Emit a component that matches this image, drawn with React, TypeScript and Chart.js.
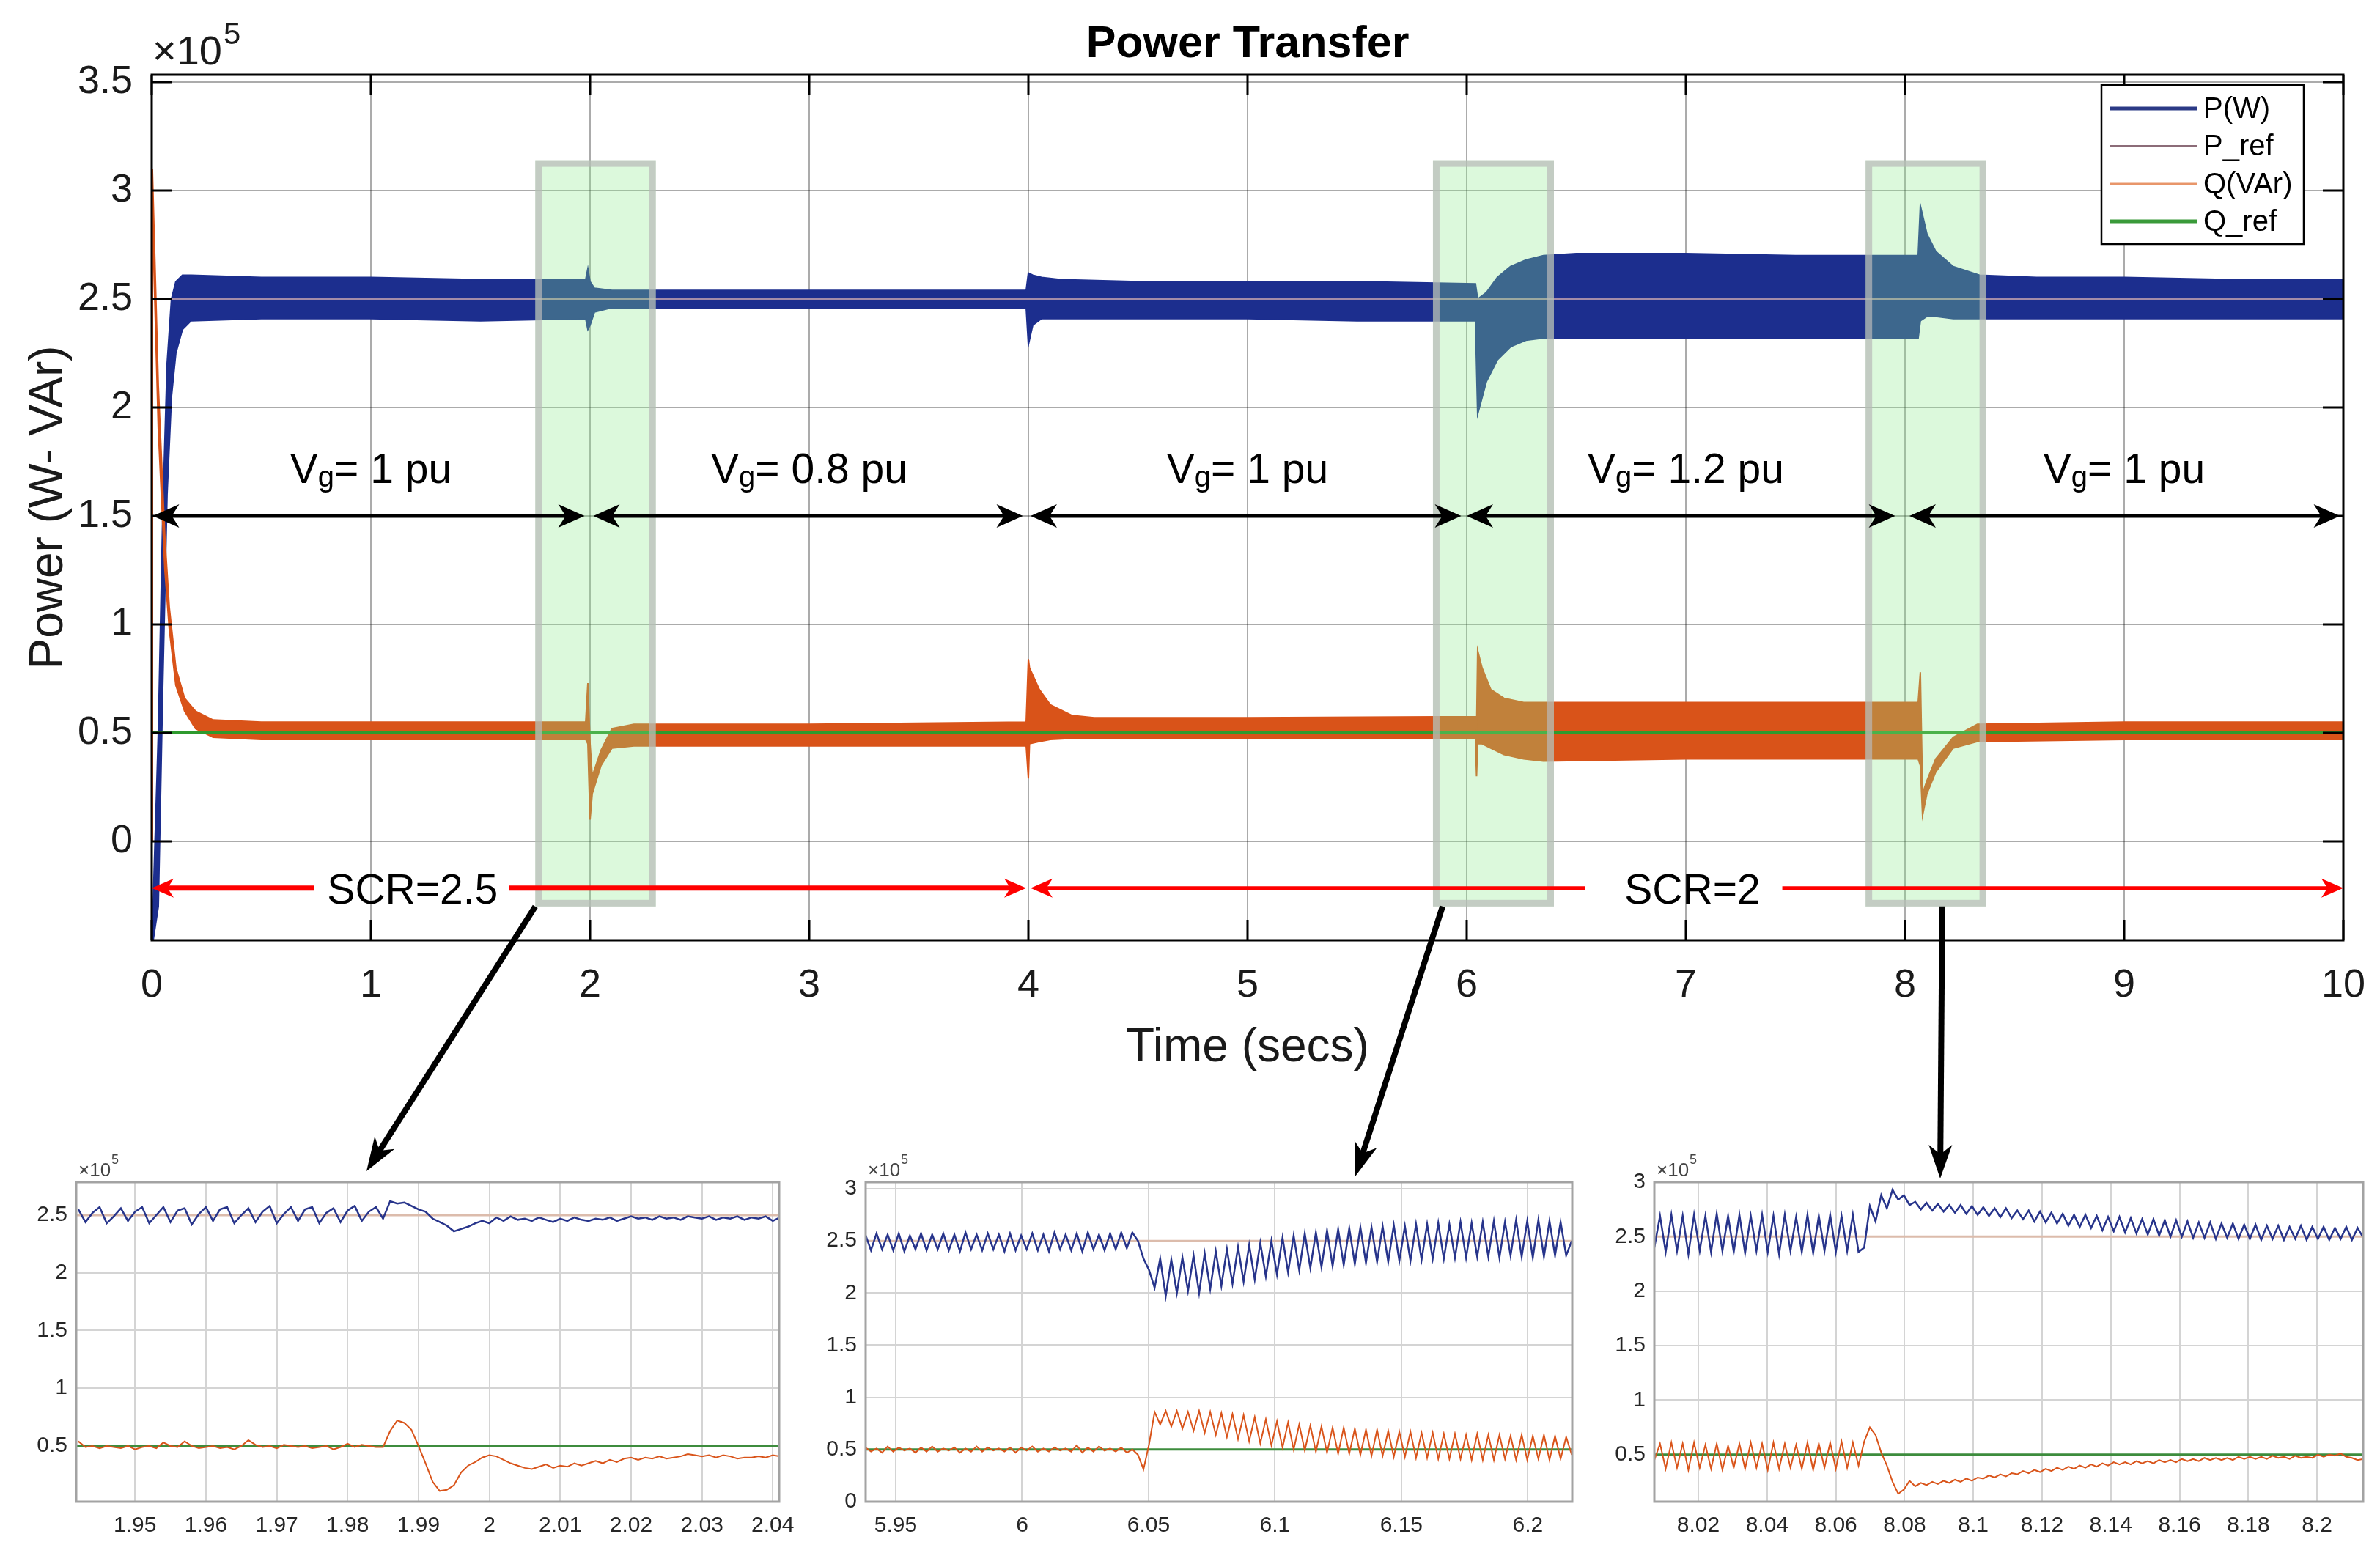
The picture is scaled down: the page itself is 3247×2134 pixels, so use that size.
import React, { useEffect, useRef } from "react";
import { Chart, registerables } from "chart.js";
Chart.register(...registerables);

const FONT = '"Liberation Sans", Arial, Helvetica, sans-serif';
const PAGE_W = 3247;
const PAGE_H = 2134;

// ================= DATA (values in units of 1e5) =================
const seriesNames = ["P(W)", "P_ref", "Q(VAr)", "Q_ref"];
const mainXTicks = [0, 1, 2, 3, 4, 5, 6, 7, 8, 9, 10];
const mainYTicks = [0, 0.5, 1, 1.5, 2, 2.5, 3, 3.5];
const pRefValue = 2.5;
const qRefValue = 0.5;

// envelope of the active power band (upper / lower edge) over time (s)
const pBandTimes = [0, 0.03, 0.05, 0.07, 0.09, 0.11, 0.14, 0.18, 0.5, 1.0, 1.5, 1.98, 1.99, 2.0, 2.02, 2.1, 3.0, 3.99, 4.0, 4.02, 4.06, 4.15, 4.5, 5.0, 5.5, 6.04, 6.05, 6.09, 6.14, 6.2, 6.27, 6.35, 6.5, 7.0, 7.5, 8.06, 8.07, 8.1, 8.14, 8.22, 8.34, 8.6, 9.0, 9.5, 10];
const pBandUpper = [-0.5, 0.5, 1.5, 2.2, 2.5, 2.58, 2.61, 2.61, 2.6, 2.6, 2.59, 2.59, 2.64, 2.58, 2.55, 2.54, 2.54, 2.54, 2.62, 2.61, 2.6, 2.59, 2.58, 2.58, 2.58, 2.57, 2.5, 2.53, 2.6, 2.65, 2.68, 2.7, 2.71, 2.71, 2.7, 2.7, 2.93, 2.8, 2.72, 2.65, 2.61, 2.6, 2.6, 2.59, 2.59];
const pBandLower = [-0.5, -0.3, 0.7, 1.6, 2.05, 2.25, 2.36, 2.4, 2.41, 2.41, 2.4, 2.41, 2.36, 2.38, 2.44, 2.46, 2.46, 2.46, 2.29, 2.38, 2.41, 2.41, 2.41, 2.41, 2.4, 2.4, 1.97, 2.12, 2.22, 2.28, 2.31, 2.32, 2.32, 2.32, 2.32, 2.32, 2.4, 2.42, 2.42, 2.41, 2.41, 2.41, 2.41, 2.41, 2.41];

// envelope of the reactive power band
const qBandTimes = [0, 0.003, 0.03, 0.06, 0.08, 0.11, 0.15, 0.2, 0.28, 0.5, 1.0, 1.5, 1.98, 1.99, 2.0, 2.01, 2.05, 2.1, 2.2, 3.0, 3.99, 4.0, 4.005, 4.05, 4.1, 4.2, 4.3, 5.0, 6.04, 6.045, 6.05, 6.07, 6.11, 6.17, 6.26, 6.35, 7.0, 8.06, 8.07, 8.08, 8.1, 8.14, 8.22, 8.33, 9.0, 10];
const qBandUpper = [0, 3.1, 2.1, 1.4, 1.08, 0.8, 0.66, 0.6, 0.56, 0.55, 0.55, 0.55, 0.55, 0.73, 0.45, 0.3, 0.42, 0.52, 0.54, 0.54, 0.55, 0.84, 0.8, 0.7, 0.63, 0.58, 0.57, 0.57, 0.575, 0.5, 0.88, 0.8, 0.7, 0.66, 0.64, 0.64, 0.64, 0.64, 0.78, 0.22, 0.28, 0.38, 0.48, 0.54, 0.55, 0.55];
const qBandLower = [0, 2.9, 1.9, 1.25, 0.98, 0.72, 0.6, 0.52, 0.48, 0.47, 0.47, 0.47, 0.47, 0.45, 0.1, 0.22, 0.35, 0.43, 0.44, 0.44, 0.44, 0.29, 0.45, 0.46, 0.47, 0.475, 0.475, 0.475, 0.474, 0.3, 0.45, 0.45, 0.43, 0.4, 0.38, 0.37, 0.38, 0.38, 0.35, 0.12, 0.22, 0.32, 0.43, 0.46, 0.47, 0.47];

// ---- inset 1 (around t = 2 s), sampled every 1 ms from 1.942 s
const inset1Start = 1.942;
const inset1Step = 0.001;
const inset1P = [
  2.55, 2.44, 2.52, 2.57, 2.43, 2.49, 2.56, 2.45, 2.53, 2.57,
  2.43, 2.50, 2.57, 2.44, 2.54, 2.56, 2.42, 2.51, 2.57, 2.45,
  2.55, 2.57, 2.43, 2.50, 2.56, 2.44, 2.53, 2.58, 2.43, 2.51,
  2.57, 2.45, 2.55, 2.57, 2.43, 2.52, 2.56, 2.44, 2.54, 2.58,
  2.45, 2.53, 2.57,
  2.47, 2.62, 2.60, 2.61, 2.58, 2.55, 2.53, 2.47, 2.44, 2.41, 2.36, 2.38, 2.40, 2.43, 2.45, 2.43,
  2.48, 2.45, 2.49, 2.46, 2.47, 2.45, 2.48, 2.46, 2.44, 2.47,
  2.45, 2.48, 2.46, 2.45, 2.47, 2.46, 2.48, 2.45, 2.47, 2.49,
  2.47, 2.48, 2.46, 2.49, 2.47, 2.48, 2.46, 2.49, 2.48, 2.47,
  2.49, 2.46, 2.48, 2.47, 2.49, 2.46, 2.48, 2.47, 2.49, 2.45, 2.48,
];
const inset1Q = [
  0.54, 0.49, 0.50, 0.48, 0.50, 0.49, 0.48, 0.50, 0.47, 0.49,
  0.50, 0.48, 0.53, 0.50, 0.49, 0.54, 0.50, 0.48, 0.49, 0.50,
  0.48, 0.49, 0.47, 0.50, 0.55, 0.51, 0.49, 0.50, 0.48, 0.51,
  0.50, 0.49, 0.50, 0.48, 0.49, 0.50, 0.47, 0.49, 0.52, 0.49,
  0.51, 0.50, 0.49,
  0.49, 0.63, 0.72, 0.70, 0.64, 0.50, 0.35, 0.19, 0.11, 0.12, 0.16, 0.27, 0.33, 0.36, 0.40, 0.42,
  0.41, 0.38, 0.35, 0.33, 0.31, 0.30, 0.32, 0.34, 0.31, 0.33,
  0.32, 0.35, 0.33, 0.35, 0.37, 0.35, 0.38, 0.36, 0.39, 0.40,
  0.38, 0.40, 0.39, 0.41, 0.39, 0.40, 0.41, 0.43, 0.42, 0.41,
  0.42, 0.40, 0.42, 0.41, 0.39, 0.40, 0.40, 0.41, 0.40, 0.42, 0.41,
];

// ---- inset 2 (around t = 6 s), sampled every 2.2 ms from 5.938 s
const inset2Start = 5.938;
const inset2Step = 0.0022;
const inset2P = [
  2.56, 2.41, 2.57, 2.42, 2.56, 2.41, 2.57, 2.40, 2.55, 2.42,
  2.57, 2.41, 2.56, 2.42, 2.57, 2.41, 2.56, 2.40, 2.58, 2.42,
  2.56, 2.41, 2.57, 2.42, 2.56, 2.40, 2.57, 2.41, 2.55, 2.42,
  2.57, 2.41, 2.56, 2.40, 2.58, 2.42, 2.56, 2.41, 2.57, 2.40,
  2.58, 2.42, 2.56, 2.41, 2.57, 2.42, 2.58, 2.43, 2.58,
  2.50, 2.33, 2.22, 2.05, 2.33, 1.97, 2.32, 2.00, 2.34, 2.02,
  2.36, 2.00, 2.38, 2.04, 2.40, 2.07, 2.42, 2.09, 2.44, 2.11,
  2.46, 2.13, 2.48, 2.16, 2.50, 2.18, 2.53, 2.20, 2.55, 2.22,
  2.57, 2.24, 2.58, 2.25, 2.60, 2.26, 2.61, 2.27, 2.62, 2.28,
  2.63, 2.29, 2.63, 2.30, 2.64, 2.30, 2.65, 2.31, 2.64, 2.31,
  2.66, 2.32, 2.66, 2.33, 2.67, 2.33, 2.66, 2.34, 2.68, 2.34,
  2.67, 2.35, 2.68, 2.35, 2.69, 2.34, 2.68, 2.36, 2.70, 2.35,
  2.69, 2.34, 2.70, 2.35, 2.69, 2.36, 2.68, 2.36, 2.50,
];
const inset2Q = [
  0.52, 0.48, 0.51, 0.47, 0.53, 0.48, 0.52, 0.49, 0.51, 0.47,
  0.52, 0.48, 0.53, 0.48, 0.51, 0.49, 0.52, 0.47, 0.51, 0.48,
  0.53, 0.48, 0.52, 0.49, 0.51, 0.48, 0.52, 0.47, 0.52, 0.49,
  0.53, 0.48, 0.51, 0.48, 0.52, 0.49, 0.51, 0.48, 0.54, 0.47,
  0.52, 0.48, 0.53, 0.49, 0.51, 0.48, 0.52, 0.47, 0.50,
  0.45, 0.31, 0.55, 0.86, 0.74, 0.87, 0.72, 0.87, 0.70, 0.86,
  0.68, 0.87, 0.66, 0.86, 0.64, 0.85, 0.62, 0.84, 0.60, 0.83,
  0.58, 0.81, 0.56, 0.79, 0.54, 0.77, 0.52, 0.76, 0.50, 0.74,
  0.49, 0.73, 0.48, 0.72, 0.47, 0.71, 0.46, 0.71, 0.46, 0.70,
  0.45, 0.69, 0.44, 0.69, 0.44, 0.68, 0.43, 0.67, 0.43, 0.67,
  0.42, 0.66, 0.42, 0.66, 0.41, 0.65, 0.41, 0.65, 0.41, 0.64,
  0.40, 0.65, 0.40, 0.64, 0.40, 0.64, 0.41, 0.63, 0.40, 0.64,
  0.40, 0.63, 0.41, 0.64, 0.40, 0.63, 0.41, 0.62, 0.45,
];

// ---- inset 3 (around t = 8 s), sampled every 1.65 ms from 8.0072 s
const inset3Start = 8.0072;
const inset3Step = 0.00165;
const inset3P = [
  2.40, 2.69, 2.36, 2.70, 2.37, 2.69, 2.34, 2.70, 2.37, 2.69,
  2.36, 2.71, 2.37, 2.69, 2.36, 2.70, 2.35, 2.69, 2.37, 2.70,
  2.36, 2.69, 2.34, 2.70, 2.37, 2.68, 2.36, 2.70, 2.35, 2.69,
  2.37, 2.70, 2.36, 2.69, 2.37, 2.70, 2.36, 2.40,
  2.78, 2.64, 2.88, 2.76, 2.93, 2.84, 2.88, 2.79, 2.82,
  2.75, 2.81, 2.74, 2.80, 2.73, 2.79, 2.72, 2.79, 2.71, 2.78,
  2.70, 2.77, 2.69, 2.76, 2.68, 2.76, 2.67, 2.74, 2.66, 2.74,
  2.64, 2.73, 2.63, 2.72, 2.62, 2.71, 2.60, 2.70, 2.59, 2.70,
  2.58, 2.69, 2.56, 2.68, 2.55, 2.68, 2.54, 2.67, 2.53, 2.66,
  2.52, 2.66, 2.51, 2.65, 2.50, 2.65, 2.50, 2.64, 2.49, 2.63,
  2.49, 2.63, 2.48, 2.62, 2.49, 2.62, 2.48, 2.61, 2.48, 2.61,
  2.47, 2.60, 2.48, 2.60, 2.47, 2.59, 2.48, 2.60, 2.47, 2.59,
  2.48, 2.59, 2.47, 2.58, 2.48, 2.59, 2.47, 2.58, 2.49,
];
const inset3Q = [
  0.45, 0.60, 0.37, 0.61, 0.38, 0.60, 0.36, 0.61, 0.38, 0.59,
  0.37, 0.60, 0.36, 0.58, 0.38, 0.60, 0.37, 0.61, 0.38, 0.60,
  0.36, 0.61, 0.37, 0.60, 0.38, 0.59, 0.37, 0.61, 0.36, 0.60,
  0.38, 0.61, 0.37, 0.62, 0.38, 0.61, 0.40, 0.62,
  0.75, 0.68, 0.52, 0.40, 0.25, 0.14, 0.18, 0.26, 0.21,
  0.24, 0.22, 0.25, 0.23, 0.26, 0.24, 0.27, 0.25, 0.28, 0.26,
  0.29, 0.28, 0.31, 0.29, 0.32, 0.30, 0.33, 0.32, 0.35, 0.33,
  0.36, 0.34, 0.37, 0.35, 0.38, 0.36, 0.39, 0.37, 0.40, 0.38,
  0.41, 0.39, 0.42, 0.40, 0.43, 0.41, 0.43, 0.41, 0.44, 0.42,
  0.44, 0.42, 0.45, 0.43, 0.45, 0.43, 0.46, 0.44, 0.46, 0.44,
  0.47, 0.45, 0.47, 0.45, 0.47, 0.45, 0.48, 0.46, 0.48, 0.46,
  0.48, 0.46, 0.49, 0.47, 0.48, 0.46, 0.49, 0.47, 0.48, 0.47,
  0.50, 0.48, 0.50, 0.49, 0.51, 0.48, 0.47, 0.45, 0.46,
];

const inset1XTicks = [1.95, 1.96, 1.97, 1.98, 1.99, 2, 2.01, 2.02, 2.03, 2.04];
const inset1YTicks = [0.5, 1, 1.5, 2, 2.5];
const inset2XTicks = [5.95, 6, 6.05, 6.1, 6.15, 6.2];
const inset2YTicks = [0, 0.5, 1, 1.5, 2, 2.5, 3];
const inset3XTicks = [8.02, 8.04, 8.06, 8.08, 8.1, 8.12, 8.14, 8.16, 8.18, 8.2];
const inset3YTicks = [0.5, 1, 1.5, 2, 2.5, 3];

// annotation content
const vgCenters = [1, 3, 5, 7, 9];
const vgValues = ["1", "0.8", "1", "1.2", "1"];
const vgSegments = [[0.005, 1.975], [2.015, 3.975], [4.01, 5.975], [6.0, 7.955], [8.02, 9.985]];
const zoomWindows = [[1.75, 2.3], [5.846, 6.398], [7.82, 8.37]];

// ================= LAYOUT / STYLE =================
const MAIN_AREA = { left: 207, top: 102, right: 3197, bottom: 1283 };
const MAIN_Y = { min: -0.456, max: 3.534 };
const NAVY = "#1c2e8e";
const ORANGE = "#d95319";
const GREEN = "#2e9a2e";

const INSETS = [
  {
    canvas: { x: 0, y: 1560, w: 1110, h: 574 },
    area: { left: 104, top: 1613, right: 1063, bottom: 2049 },
    x: [1.9417, 2.0409], y: [0.017, 2.786],
    xTicks: inset1XTicks, yTicks: inset1YTicks,
    start: inset1Start, step: inset1Step, P: inset1P, Q: inset1Q,
  },
  {
    canvas: { x: 1110, y: 1560, w: 1090, h: 574 },
    area: { left: 1181, top: 1613, right: 2145, bottom: 2049 },
    x: [5.9381, 6.2176], y: [0, 3.063],
    xTicks: inset2XTicks, yTicks: inset2YTicks,
    start: inset2Start, step: inset2Step, P: inset2P, Q: inset2Q,
  },
  {
    canvas: { x: 2200, y: 1560, w: 1047, h: 574 },
    area: { left: 2257, top: 1613, right: 3224, bottom: 2049 },
    x: [8.0072, 8.2134], y: [0.068, 3.0],
    xTicks: inset3XTicks, yTicks: inset3YTicks,
    start: inset3Start, step: inset3Step, P: inset3P, Q: inset3Q,
  },
];

function toPoints(ts: number[], vs: number[]) {
  return ts.map((t, i) => ({ x: t, y: vs[i] }));
}
function sampled(start: number, step: number, vs: number[]) {
  return vs.map((v, i) => ({ x: start + step * i, y: v }));
}
function refPts(x0: number, x1: number, v: number) {
  return [{ x: x0, y: v }, { x: x1, y: v }];
}

function arrowHead(ctx: CanvasRenderingContext2D, tx: number, ty: number, ux: number, uy: number, len: number, hw: number, color: string) {
  const nx = -uy, ny = ux;
  const bx = tx - ux * len, by = ty - uy * len;
  const mx = tx - ux * len * 0.72, my = ty - uy * len * 0.72;
  ctx.beginPath();
  ctx.moveTo(tx, ty);
  ctx.lineTo(bx + nx * hw, by + ny * hw);
  ctx.lineTo(mx, my);
  ctx.lineTo(bx - nx * hw, by - ny * hw);
  ctx.closePath();
  ctx.fillStyle = color;
  ctx.fill();
}

function arrow(ctx: CanvasRenderingContext2D, x0: number, y0: number, x1: number, y1: number,
  o: { width: number; color: string; start?: boolean; end?: boolean; len: number; hw: number }) {
  const d = Math.hypot(x1 - x0, y1 - y0);
  const ux = (x1 - x0) / d, uy = (y1 - y0) / d;
  let sx = x0, sy = y0, ex = x1, ey = y1;
  if (o.start) { sx = x0 + ux * o.len * 0.7; sy = y0 + uy * o.len * 0.7; }
  if (o.end) { ex = x1 - ux * o.len * 0.7; ey = y1 - uy * o.len * 0.7; }
  ctx.beginPath();
  ctx.moveTo(sx, sy);
  ctx.lineTo(ex, ey);
  ctx.strokeStyle = o.color;
  ctx.lineWidth = o.width;
  ctx.lineCap = "butt";
  ctx.stroke();
  if (o.start) arrowHead(ctx, x0, y0, -ux, -uy, o.len, o.hw, o.color);
  if (o.end) arrowHead(ctx, x1, y1, ux, uy, o.len, o.hw, o.color);
}

const mainDecor = {
  id: "mainDecor",
  afterDatasetsDraw(chart: any) {
    const ctx: CanvasRenderingContext2D = chart.ctx;
    const xs = chart.scales.x, ys = chart.scales.y;
    const X = (t: number) => xs.getPixelForValue(t);
    const Y = (v: number) => ys.getPixelForValue(v);
    const a = chart.chartArea;
    ctx.save();

    // zoom windows (translucent green)
    zoomWindows.forEach(([t0, t1]) => {
      const x0 = X(t0), x1 = X(t1), y0 = Y(3.14), y1 = Y(-0.3);
      ctx.fillStyle = "rgba(140,236,140,0.30)";
      ctx.fillRect(x0, y0, x1 - x0, y1 - y0);
      ctx.strokeStyle = "rgba(185,185,185,0.7)";
      ctx.lineWidth = 9;
      ctx.strokeRect(x0 + 4.5, y0 + 4.5, x1 - x0 - 9, y1 - y0 - 9);
    });

    // axes box and inward ticks
    ctx.strokeStyle = "#000";
    ctx.lineWidth = 3;
    ctx.strokeRect(a.left, a.top, a.right - a.left, a.bottom - a.top);
    ctx.beginPath();
    mainXTicks.forEach((t) => {
      const x = X(t);
      ctx.moveTo(x, a.bottom); ctx.lineTo(x, a.bottom - 28);
      ctx.moveTo(x, a.top); ctx.lineTo(x, a.top + 28);
    });
    mainYTicks.forEach((v) => {
      const y = Y(v);
      ctx.moveTo(a.left, y); ctx.lineTo(a.left + 28, y);
      ctx.moveTo(a.right, y); ctx.lineTo(a.right - 28, y);
    });
    ctx.stroke();

    // legend
    const L = { x: 2867, y: 116, w: 276, h: 217 };
    ctx.fillStyle = "#fff";
    ctx.fillRect(L.x, L.y, L.w, L.h);
    ctx.strokeStyle = "#000";
    ctx.lineWidth = 2.5;
    ctx.strokeRect(L.x, L.y, L.w, L.h);
    const legendStyles = [
      { color: "#2b3a86", width: 5 },
      { color: "#8c6c78", width: 2 },
      { color: "#e8966a", width: 3 },
      { color: "#3a9a3a", width: 5 },
    ];
    const rowY = [148, 199, 251, 302];
    ctx.font = `40px ${FONT}`;
    ctx.textBaseline = "middle";
    ctx.textAlign = "left";
    seriesNames.forEach((name, i) => {
      ctx.beginPath();
      ctx.moveTo(2878, rowY[i]);
      ctx.lineTo(2998, rowY[i]);
      ctx.strokeStyle = legendStyles[i].color;
      ctx.lineWidth = legendStyles[i].width;
      ctx.stroke();
      ctx.fillStyle = "#000";
      ctx.fillText(name, 3006, rowY[i] + 2);
    });

    // grid-voltage double arrows and labels
    const yv = Y(1.5);
    vgSegments.forEach(([t0, t1]) => {
      arrow(ctx, X(t0), yv, X(t1), yv, { width: 5, color: "#000", start: true, end: true, len: 36, hw: 16 });
    });
    ctx.textBaseline = "alphabetic";
    ctx.fillStyle = "#000";
    vgCenters.forEach((t, i) => {
      const big = `57px ${FONT}`, small = `40px ${FONT}`;
      const rest = `= ${vgValues[i]} pu`;
      ctx.font = big; const wV = ctx.measureText("V").width; const wR = ctx.measureText(rest).width;
      ctx.font = small; const wg = ctx.measureText("g").width;
      let x = X(t) - (wV + wg + wR) / 2;
      const base = 659;
      ctx.font = big; ctx.fillText("V", x, base); x += wV;
      ctx.font = small; ctx.fillText("g", x, base + 5); x += wg;
      ctx.font = big; ctx.fillText(rest, x, base);
    });

    // SCR arrows (red)
    const ys2 = Y(-0.215);
    const RED = "#ff0000";
    arrow(ctx, X(0.0), ys2, X(0.74), ys2, { width: 7, color: RED, start: true, len: 30, hw: 13 });
    arrow(ctx, X(1.63), ys2, X(3.99), ys2, { width: 7, color: RED, end: true, len: 30, hw: 13 });
    arrow(ctx, X(4.01), ys2, X(6.54), ys2, { width: 5, color: RED, start: true, len: 30, hw: 13 });
    arrow(ctx, X(7.44), ys2, X(10), ys2, { width: 5, color: RED, end: true, len: 30, hw: 13 });
    ctx.font = `57px ${FONT}`;
    ctx.textAlign = "center";
    ctx.fillStyle = "#000";
    ctx.fillText("SCR=2.5", X(1.19), ys2 + 21);
    ctx.fillText("SCR=2", X(7.03), ys2 + 21);

    // pointers to the zoomed insets
    const pointers = [
      [X(1.75), Y(-0.3), 500, 1598],
      [X(5.89), Y(-0.3), 1849, 1605],
      [X(8.17), Y(-0.3), 2647, 1608],
    ];
    pointers.forEach(([x0, y0, x1, y1]) => {
      arrow(ctx, x0, y0, x1, y1, { width: 8, color: "#000", end: true, len: 46, hw: 16 });
    });

    // title, axis labels, exponent
    ctx.fillStyle = "#000";
    ctx.textAlign = "center";
    ctx.font = `bold 61px ${FONT}`;
    ctx.fillText("Power Transfer", (a.left + a.right) / 2, 78);
    ctx.font = `64px ${FONT}`;
    ctx.fillStyle = "#1a1a1a";
    ctx.fillText("Time (secs)", (a.left + a.right) / 2, 1448);
    ctx.save();
    ctx.translate(85, (a.top + a.bottom) / 2);
    ctx.rotate(-Math.PI / 2);
    ctx.fillText("Power (W- VAr)", 0, 0);
    ctx.restore();
    ctx.textAlign = "left";
    ctx.font = `56px ${FONT}`;
    ctx.fillText("\u00d710", 208, 88);
    const w10 = ctx.measureText("\u00d710").width;
    ctx.font = `42px ${FONT}`;
    ctx.fillText("5", 208 + w10 + 2, 60);
    ctx.restore();
  },
};

function mainConfig(): any {
  return {
    type: "line",
    data: {
      datasets: [
        { label: "Q_ref", data: refPts(0, 10, qRefValue), borderColor: GREEN, borderWidth: 4, order: 0 },
        { label: "P_ref", data: refPts(0, 10, pRefValue), borderColor: "#a48ca8", borderWidth: 2, order: 1 },
        { label: "Q(VAr)", data: toPoints(qBandTimes, qBandUpper), borderColor: ORANGE, backgroundColor: ORANGE, borderWidth: 2, fill: "+1", order: 2 },
        { label: "Q(VAr) lower", data: toPoints(qBandTimes, qBandLower), borderColor: ORANGE, borderWidth: 2, fill: false, order: 2 },
        { label: "P(W)", data: toPoints(pBandTimes, pBandUpper), borderColor: NAVY, backgroundColor: NAVY, borderWidth: 2, fill: "+1", order: 3 },
        { label: "P(W) lower", data: toPoints(pBandTimes, pBandLower), borderColor: NAVY, borderWidth: 2, fill: false, order: 3 },
      ],
    },
    options: {
      animation: false,
      responsive: false,
      devicePixelRatio: 1,
      events: [],
      layout: { padding: { left: 0, top: MAIN_AREA.top, right: PAGE_W - MAIN_AREA.right, bottom: 0 } },
      elements: { point: { radius: 0 }, line: { tension: 0 } },
      plugins: { legend: { display: false }, title: { display: false }, tooltip: { enabled: false } },
      scales: {
        x: {
          type: "linear", min: 0, max: 10,
          afterBuildTicks: (s: any) => { s.ticks = mainXTicks.map((v) => ({ value: v })); },
          afterFit: (s: any) => { s.height = PAGE_H - MAIN_AREA.bottom; s.paddingLeft = 0; s.paddingRight = 0; },
          grid: { color: "rgba(0,0,0,0.33)", lineWidth: 2, drawTicks: false },
          border: { display: false },
          ticks: { font: { family: FONT, size: 54 }, color: "#1a1a1a", padding: 30, autoSkip: false, maxRotation: 0, callback: (v: any) => String(v) },
        },
        y: {
          type: "linear", min: MAIN_Y.min, max: MAIN_Y.max,
          afterBuildTicks: (s: any) => { s.ticks = mainYTicks.map((v) => ({ value: v })); },
          afterFit: (s: any) => { s.width = MAIN_AREA.left; s.paddingTop = 0; s.paddingBottom = 0; },
          grid: { color: "rgba(0,0,0,0.33)", lineWidth: 2, drawTicks: false },
          border: { display: false },
          ticks: { font: { family: FONT, size: 54 }, color: "#1a1a1a", padding: 26, autoSkip: false, callback: (v: any) => String(v) },
        },
      },
    },
    plugins: [mainDecor],
  };
}

function insetConfig(spec: any): any {
  const c = spec.canvas, ar = spec.area;
  const decor = {
    id: "insetDecor",
    afterDatasetsDraw(chart: any) {
      const ctx: CanvasRenderingContext2D = chart.ctx;
      const a = chart.chartArea;
      ctx.save();
      ctx.strokeStyle = "#a3a3a3";
      ctx.lineWidth = 3;
      ctx.strokeRect(a.left, a.top, a.right - a.left, a.bottom - a.top);
      ctx.fillStyle = "#444";
      ctx.textAlign = "left";
      ctx.textBaseline = "alphabetic";
      ctx.font = `26px ${FONT}`;
      ctx.fillText("\u00d710", a.left + 3, a.top - 8);
      const w = ctx.measureText("\u00d710").width;
      ctx.font = `18px ${FONT}`;
      ctx.fillText("5", a.left + 3 + w + 1, a.top - 25);
      ctx.restore();
    },
  };
  return {
    type: "line",
    data: {
      datasets: [
        { label: "Q(VAr)", data: sampled(spec.start, spec.step, spec.Q), borderColor: "#d9541a", borderWidth: 2, order: 0 },
        { label: "P(W)", data: sampled(spec.start, spec.step, spec.P), borderColor: "#27348b", borderWidth: 2.5, order: 1 },
        { label: "Q_ref", data: refPts(spec.x[0], spec.x[1], qRefValue), borderColor: "#3d8c3d", borderWidth: 3, order: 2 },
        { label: "P_ref", data: refPts(spec.x[0], spec.x[1], pRefValue), borderColor: "#dcbcac", borderWidth: 3, order: 3 },
      ],
    },
    options: {
      animation: false,
      responsive: false,
      devicePixelRatio: 1,
      events: [],
      layout: { padding: { left: 0, top: ar.top - c.y, right: c.x + c.w - ar.right, bottom: 0 } },
      elements: { point: { radius: 0 }, line: { tension: 0 } },
      plugins: { legend: { display: false }, title: { display: false }, tooltip: { enabled: false } },
      scales: {
        x: {
          type: "linear", min: spec.x[0], max: spec.x[1],
          afterBuildTicks: (s: any) => { s.ticks = spec.xTicks.map((v: number) => ({ value: v })); },
          afterFit: (s: any) => { s.height = c.y + c.h - ar.bottom; s.paddingLeft = 0; s.paddingRight = 0; },
          grid: { color: "#d4d4d4", lineWidth: 2, drawTicks: false },
          border: { display: false },
          ticks: { font: { family: FONT, size: 30 }, color: "#262626", padding: 15, autoSkip: false, maxRotation: 0, callback: (v: any) => String(v) },
        },
        y: {
          type: "linear", min: spec.y[0], max: spec.y[1],
          afterBuildTicks: (s: any) => { s.ticks = spec.yTicks.map((v: number) => ({ value: v })); },
          afterFit: (s: any) => { s.width = ar.left - c.x; s.paddingTop = 0; s.paddingBottom = 0; },
          grid: { color: "#d4d4d4", lineWidth: 2, drawTicks: false },
          border: { display: false },
          ticks: { font: { family: FONT, size: 30 }, color: "#262626", padding: 12, autoSkip: false, callback: (v: any) => String(v) },
        },
      },
    },
    plugins: [decor],
  };
}

export default function App() {
  const mainRef = useRef<HTMLCanvasElement>(null);
  const r1 = useRef<HTMLCanvasElement>(null);
  const r2 = useRef<HTMLCanvasElement>(null);
  const r3 = useRef<HTMLCanvasElement>(null);
  const insetRefs = [r1, r2, r3];

  useEffect(() => {
    document.body.style.margin = "0";
    const charts: Chart[] = [];
    if (mainRef.current) charts.push(new Chart(mainRef.current, mainConfig()));
    INSETS.forEach((spec, k) => {
      const cv = insetRefs[k].current;
      if (cv) charts.push(new Chart(cv, insetConfig(spec)));
    });
    return () => charts.forEach((c) => c.destroy());
  }, []);

  return (
    <div style={{ position: "absolute", left: 0, top: 0, width: PAGE_W, height: PAGE_H, background: "#fff", overflow: "hidden" }}>
      <canvas ref={mainRef} width={PAGE_W} height={PAGE_H}
        style={{ position: "absolute", left: 0, top: 0, width: PAGE_W, height: PAGE_H }} />
      {INSETS.map((s, k) => (
        <canvas key={k} ref={insetRefs[k]} width={s.canvas.w} height={s.canvas.h}
          style={{ position: "absolute", left: s.canvas.x, top: s.canvas.y, width: s.canvas.w, height: s.canvas.h }} />
      ))}
    </div>
  );
}
